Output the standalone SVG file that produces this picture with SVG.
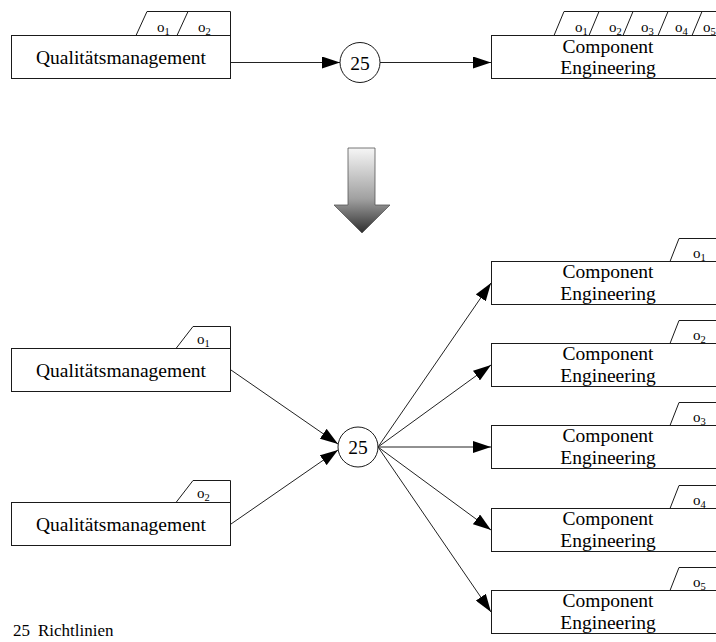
<svg xmlns="http://www.w3.org/2000/svg" width="716" height="642" viewBox="0 0 716 642" font-family="'Liberation Serif', 'Times New Roman', serif">
  <style>
    .box { fill: #fff; stroke: #1a1a1a; stroke-width: 1; }
    .tab { fill: none; stroke: #1a1a1a; stroke-width: 1; }
    .lbl { font-family: "Liberation Serif", "Times New Roman", serif; font-size: 19.5px; fill: #000; text-anchor: middle; }
    .o { font-family: "Liberation Serif", "Times New Roman", serif; font-size: 15px; fill: #000; }
    .sub { font-size: 10.5px; }
    .edge { fill: none; stroke: #222; stroke-width: 1; marker-end: url(#ah); }
    .circ { fill: #fff; stroke: #1a1a1a; stroke-width: 1; }
  </style>
  <defs>
    <marker id="ah" markerUnits="userSpaceOnUse" markerWidth="18" markerHeight="12" refX="18" refY="6" orient="auto">
      <path d="M0,0 L18,6 L0,12 Z" fill="#000"/>
    </marker>
    <linearGradient id="shade" x1="0" y1="0" x2="0" y2="1">
      <stop offset="0" stop-color="#f6f6f6"/>
      <stop offset="0.6" stop-color="#a0a0a0"/>
      <stop offset="1" stop-color="#2e2e2e"/>
    </linearGradient>
  </defs>

  <rect width="716" height="642" fill="#fff"/>

  <!-- upper part: one step with five outputs -->
  <g id="qm-top">
    <path class="tab" d="M136,35.5 L147,11.5 L230.5,11.5 L230.5,35.5 M177,35.5 L188,11.5"/>
    <rect class="box" x="11.5" y="35.5" width="219" height="43"/>
    <text class="lbl" x="121" y="63.5">Qualitätsmanagement</text>
    <text class="o" x="157" y="32">o<tspan class="sub" dy="3">1</tspan></text>
    <text class="o" x="198" y="32">o<tspan class="sub" dy="3">2</tspan></text>
  </g>

  <g id="rule-top">
    <circle class="circ" cx="360" cy="62.5" r="20"/>
    <text class="lbl" x="360" y="69.5">25</text>
  </g>

  <g id="ce-top">
    <path class="tab" d="M554,35.5 L564,11.5 L720,11.5 M589,35.5 L599,11.5 M623,35.5 L633,11.5 M658,35.5 L668,11.5 M692,35.5 L702,11.5"/>
    <rect class="box" x="491.5" y="35.5" width="240" height="43"/>
    <text class="lbl" x="608" y="52.5">Component</text>
    <text class="lbl" x="608" y="74">Engineering</text>
    <text class="o" x="575" y="32">o<tspan class="sub" dy="3">1</tspan></text>
    <text class="o" x="609" y="32">o<tspan class="sub" dy="3">2</tspan></text>
    <text class="o" x="641" y="32">o<tspan class="sub" dy="3">3</tspan></text>
    <text class="o" x="675" y="32">o<tspan class="sub" dy="3">4</tspan></text>
    <text class="o" x="703" y="32">o<tspan class="sub" dy="3">5</tspan></text>
  </g>

  <!-- transformation arrow -->
  <g id="transform-arrow">
    <path d="M348,148 L375,148 L375,205 L390,205 L362,233 L334,205 L348,205 Z" fill="url(#shade)" stroke="#555" stroke-width="0.8"/>
  </g>

  <!-- lower part: split into single outputs -->
  <g id="qm-1">
    <path class="tab" d="M176,348.5 L193,326.5 L230.5,326.5 L230.5,348.5"/>
    <rect class="box" x="11.5" y="348.5" width="219" height="43"/>
    <text class="lbl" x="121" y="376.5">Qualitätsmanagement</text>
    <text class="o" x="197" y="343.5">o<tspan class="sub" dy="3">1</tspan></text>
  </g>

  <g id="qm-2">
    <path class="tab" d="M176,502.5 L193,480.5 L230.5,480.5 L230.5,502.5"/>
    <rect class="box" x="11.5" y="502.5" width="219" height="43"/>
    <text class="lbl" x="121" y="530.5">Qualitätsmanagement</text>
    <text class="o" x="197" y="497.5">o<tspan class="sub" dy="3">2</tspan></text>
  </g>

  <g id="rule-bottom">
    <circle class="circ" cx="358" cy="447" r="20"/>
    <text class="lbl" x="358" y="454">25</text>
  </g>

  <g id="ce-1">
    <path class="tab" d="M670,261.5 L679,238.5 L720,238.5"/>
    <rect class="box" x="491.5" y="261.5" width="240" height="43"/>
    <text class="lbl" x="608" y="277.5">Component</text>
    <text class="lbl" x="608" y="300">Engineering</text>
    <text class="o" x="693" y="258">o<tspan class="sub" dy="3">1</tspan></text>
  </g>

  <g id="ce-2">
    <path class="tab" d="M670,343.5 L679,320.5 L720,320.5"/>
    <rect class="box" x="491.5" y="343.5" width="240" height="43"/>
    <text class="lbl" x="608" y="359.5">Component</text>
    <text class="lbl" x="608" y="382">Engineering</text>
    <text class="o" x="693" y="340">o<tspan class="sub" dy="3">2</tspan></text>
  </g>

  <g id="ce-3">
    <path class="tab" d="M670,425.5 L679,402.5 L720,402.5"/>
    <rect class="box" x="491.5" y="425.5" width="240" height="43"/>
    <text class="lbl" x="608" y="441.5">Component</text>
    <text class="lbl" x="608" y="464">Engineering</text>
    <text class="o" x="693" y="422">o<tspan class="sub" dy="3">3</tspan></text>
  </g>

  <g id="ce-4">
    <path class="tab" d="M670,508.5 L679,485.5 L720,485.5"/>
    <rect class="box" x="491.5" y="508.5" width="240" height="43"/>
    <text class="lbl" x="608" y="524.5">Component</text>
    <text class="lbl" x="608" y="547">Engineering</text>
    <text class="o" x="693" y="505">o<tspan class="sub" dy="3">4</tspan></text>
  </g>

  <g id="ce-5">
    <path class="tab" d="M670,590.5 L679,567.5 L720,567.5"/>
    <rect class="box" x="491.5" y="590.5" width="240" height="43"/>
    <text class="lbl" x="608" y="606.5">Component</text>
    <text class="lbl" x="608" y="629">Engineering</text>
    <text class="o" x="693" y="587">o<tspan class="sub" dy="3">5</tspan></text>
  </g>

  <!-- connectors -->
  <g id="connectors">
    <line class="edge" x1="231" y1="62.5" x2="340" y2="62.5"/>
    <line class="edge" x1="380" y1="62.5" x2="491" y2="62.5"/>
    <line class="edge" x1="231" y1="370" x2="338" y2="444"/>
    <line class="edge" x1="231" y1="524" x2="338" y2="450"/>
    <line class="edge" x1="378" y1="447" x2="491" y2="283"/>
    <line class="edge" x1="378" y1="447" x2="491" y2="365"/>
    <line class="edge" x1="378" y1="447" x2="491" y2="447"/>
    <line class="edge" x1="378" y1="447" x2="491" y2="530"/>
    <line class="edge" x1="378" y1="447" x2="491" y2="612"/>
  </g>

  <!-- legend -->
  <text class="o" style="font-size:17px" y="636"><tspan x="13">25</tspan><tspan x="38">Richtlinien</tspan></text>
</svg>
